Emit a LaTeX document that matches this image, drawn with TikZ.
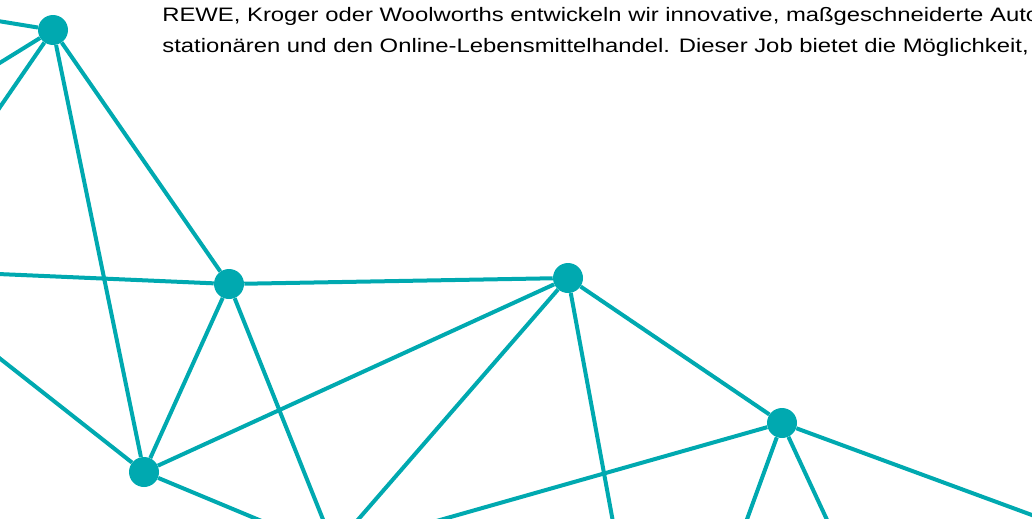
\documentclass[tikz,border=0pt]{standalone}
\usepackage{fontspec}
\setmainfont{Liberation Sans}
\definecolor{netcol}{RGB}{0,169,176}
\tikzset{dot/.style = {circle, fill=netcol, minimum size=22.5pt, inner sep=0pt},
         link/.style = {netcol, line width=3pt},
         copy/.style = {anchor=base west, inner sep=0pt, xscale=1.225,
                        font=\fontsize{14.6pt}{18pt}\selectfont}}

\begin{document}
\begin{tikzpicture}[x=0.75pt, y=-0.75pt]
\useasboundingbox (0,0) rectangle (1032,518);
\clip (0,0) rectangle (1032,518);
% text at the top
\node [copy] (line1) at (162,21) {REWE, Kroger oder Woolworths entwickeln wir innovative, maßgeschneiderte Automatisierungslösungen};
\node [copy] (line2) at (162,52) {stationären und den Online-Lebensmittelhandel. Dieser Job bietet die Möglichkeit,};
% the dots
\node [dot] (na) at (53,30) {};
\node [dot] (nb) at (229,284) {};
\node [dot] (nc) at (568,278) {};
\node [dot] (nd) at (144,472) {};
\node [dot] (ne) at (782,423) {};
% free ends at the border
\coordinate (la) at (-2,21);
\coordinate (lb) at (-2,64);
\coordinate (lc) at (-2,110);
\coordinate (ld) at (-2,274);
\coordinate (le) at (-2,357);
\coordinate (ba) at (264,522);
\coordinate (bb) at (324,522);
\coordinate (bc) at (356,522);
\coordinate (bd) at (433,522);
\coordinate (be) at (613,522);
\coordinate (bf) at (746,522);
\coordinate (bg) at (828,522);
\coordinate (re) at (1040,518);
% edges
\draw [link] (la) -- (na);
\draw [link] (lb) -- (na);
\draw [link] (lc) -- (na);
\draw [link] (na) -- (nd);
\draw [link] (na) -- (nb);
\draw [link] (ld) -- (nb);
\draw [link] (nb) -- (nc);
\draw [link] (nb) -- (nd);
\draw [link] (nb) -- (bb);
\draw [link] (le) -- (nd);
\draw [link] (nd) -- (nc);
\draw [link] (nd) -- (ba);
\draw [link] (nc) -- (bc);
\draw [link] (nc) -- (be);
\draw [link] (nc) -- (ne);
\draw [link] (ne) -- (bd);
\draw [link] (ne) -- (bf);
\draw [link] (ne) -- (bg);
\draw [link] (ne) -- (re);
\end{tikzpicture}
\end{document}
